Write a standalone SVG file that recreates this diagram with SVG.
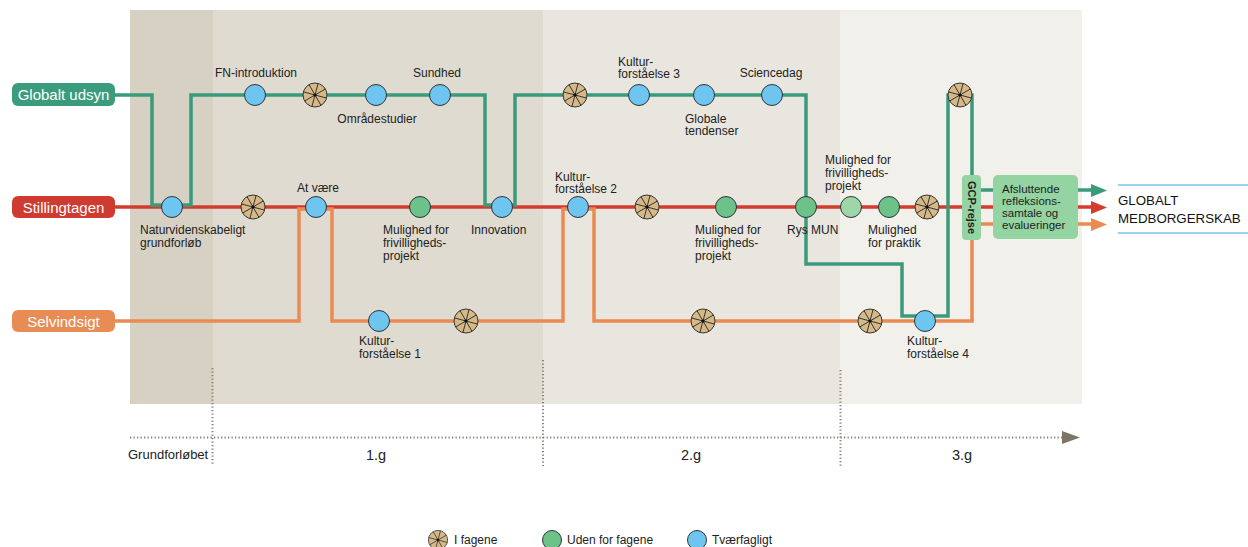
<svg xmlns="http://www.w3.org/2000/svg" width="1248" height="547" viewBox="0 0 1248 547">
<style>
.t{font-family:"Liberation Sans",Arial,sans-serif;font-size:12px;fill:#222}
.lab{font-family:"Liberation Sans",Arial,sans-serif;font-size:15px;fill:#fff;text-anchor:middle}
.box{font-family:"Liberation Sans",Arial,sans-serif;font-size:11.5px;fill:#1e1e1e}
.ln{fill:none;stroke-width:3.5;stroke-linejoin:miter}
.g{stroke:#3a9b7c}.r{stroke:#d33b2f}.o{stroke:#e98b52}
.bl{fill:#6ec6f0;stroke:#2d3438;stroke-width:1}
.gr{fill:#6dc289;stroke:#2d3438;stroke-width:1}
.lg{fill:#9fd6a9;stroke:#2d3438;stroke-width:1}
.dot{fill:none;stroke:#8a8478;stroke-width:2;stroke-dasharray:1.3 2.2}
</style>
<defs>
<g id="wheel">
<circle r="12" fill="#d7b887" stroke="#333" stroke-width="1"/>
<g transform="rotate(15)" stroke="#333" stroke-width="0.9">
<path d="M0,-12V12M-12,0H12M-8.5,-8.5L8.5,8.5M-8.5,8.5L8.5,-8.5"/>
</g>
<circle r="1.6" fill="#111"/>
</g>
</defs>

<g id="background">
<rect x="130" y="10" width="83" height="394" fill="#d6d1c3"/>
<rect x="213" y="10" width="330" height="394" fill="#dfdbd0"/>
<rect x="543" y="10" width="297" height="394" fill="#e8e6df"/>
<rect x="840" y="10" width="242" height="394" fill="#f1f0eb"/>
</g>

<g id="timeline">
<path class="dot" d="M130,437.5H1064"/>
<polygon points="1062,431 1080,437.5 1062,444" fill="#7d7565"/>
<path class="dot" d="M212.5,368V466M543,360V466M840.5,370V466"/>
<text class="t" x="128" y="459" style="font-size:13px">Grundforløbet</text>
<text class="t" x="376" y="460" text-anchor="middle" style="font-size:14.5px">1.g</text>
<text class="t" x="691" y="460" text-anchor="middle" style="font-size:14.5px">2.g</text>
<text class="t" x="962" y="460" text-anchor="middle" style="font-size:14.5px">3.g</text>
</g>

<g id="connectors">
<path class="ln r" d="M115,207H1094"/>
<path class="ln o" d="M115,321H299V209H332V321H563V209H594V321H972V240"/>
<path class="ln g" d="M115,95H152V205H191V95H485V205H515V95H806V264H902V316H948V95H972V176"/>
<path class="ln g" d="M980,190H994M1077,190H1094"/>
<path class="ln o" d="M980,224H994M1077,224H1094"/>
<polygon points="1091,184 1107,190.5 1091,197" fill="#3a9b7c"/>
<polygon points="1091,201 1107,207.5 1091,214" fill="#d33b2f"/>
<polygon points="1091,218 1107,224.5 1091,231" fill="#e98b52"/>
</g>

<g id="line-globalt">
<rect x="12" y="83" width="103" height="23" rx="6" fill="#3b9b7d"/>
<text class="lab" x="63.5" y="100">Globalt udsyn</text>
</g>
<g id="line-stilling">
<rect x="12" y="196" width="103" height="22" rx="6" fill="#cf3b30"/>
<text class="lab" x="63.5" y="212.5">Stillingtagen</text>
</g>
<g id="line-selv">
<rect x="12" y="310" width="103" height="22" rx="6" fill="#e88c55"/>
<text class="lab" x="63.5" y="326.5">Selvindsigt</text>
</g>

<g id="n-fn"><circle class="bl" cx="255" cy="95" r="10.5"/><text class="t" x="256" y="77" text-anchor="middle">FN-introduktion</text></g>
<g id="n-w1"><use href="#wheel" x="315" y="95"/></g>
<g id="n-omr"><circle class="bl" cx="376" cy="95" r="10.5"/><text class="t" x="377" y="123" text-anchor="middle">Områdestudier</text></g>
<g id="n-sund"><circle class="bl" cx="440" cy="95" r="10.5"/><text class="t" x="437" y="77" text-anchor="middle">Sundhed</text></g>
<g id="n-w2"><use href="#wheel" x="575" y="95"/></g>
<g id="n-kf3"><circle class="bl" cx="639" cy="95" r="10.5"/><text class="t" x="618" y="66">Kultur-</text><text class="t" x="618" y="78">forståelse 3</text></g>
<g id="n-glob"><circle class="bl" cx="704" cy="95" r="10.5"/><text class="t" x="685" y="123">Globale</text><text class="t" x="685" y="135">tendenser</text></g>
<g id="n-sci"><circle class="bl" cx="772" cy="95" r="10.5"/><text class="t" x="771" y="77" text-anchor="middle">Sciencedag</text></g>
<g id="n-w3"><use href="#wheel" x="960" y="95"/></g>

<g id="n-nat"><circle class="bl" cx="172" cy="207" r="10.5"/><text class="t" x="140" y="234">Naturvidenskabeligt</text><text class="t" x="140" y="247">grundforløb</text></g>
<g id="n-w4"><use href="#wheel" x="253" y="207"/></g>
<g id="n-at"><circle class="bl" cx="316" cy="207" r="10.5"/><text class="t" x="297" y="192">At være</text></g>
<g id="n-mf1"><circle class="gr" cx="420" cy="207" r="10.5"/><text class="t" x="383" y="234">Mulighed for</text><text class="t" x="383" y="247">frivilligheds-</text><text class="t" x="383" y="260">projekt</text></g>
<g id="n-inn"><circle class="bl" cx="502" cy="207" r="10.5"/><text class="t" x="471" y="234">Innovation</text></g>
<g id="n-kf2"><circle class="bl" cx="578" cy="207" r="10.5"/><text class="t" x="555" y="181">Kultur-</text><text class="t" x="555" y="193">forståelse 2</text></g>
<g id="n-w5"><use href="#wheel" x="647" y="207"/></g>
<g id="n-mf2"><circle class="gr" cx="726" cy="207" r="10.5"/><text class="t" x="695" y="234">Mulighed for</text><text class="t" x="695" y="247">frivilligheds-</text><text class="t" x="695" y="260">projekt</text></g>
<g id="n-rys"><circle class="gr" cx="806" cy="207" r="10.5"/><text class="t" x="787" y="234">Rys MUN</text></g>
<g id="n-mf3"><circle class="lg" cx="851" cy="207" r="10.5"/><text class="t" x="825" y="164">Mulighed for</text><text class="t" x="825" y="177">frivilligheds-</text><text class="t" x="825" y="190">projekt</text></g>
<g id="n-prak"><circle class="gr" cx="889" cy="207" r="10.5"/><text class="t" x="868" y="234">Mulighed</text><text class="t" x="868" y="247">for praktik</text></g>
<g id="n-w6"><use href="#wheel" x="927" y="207"/></g>

<g id="n-kf1"><circle class="bl" cx="379" cy="321" r="10.5"/><text class="t" x="359" y="345">Kultur-</text><text class="t" x="359" y="357.5">forståelse 1</text></g>
<g id="n-w7"><use href="#wheel" x="466" y="321"/></g>
<g id="n-w8"><use href="#wheel" x="703" y="321"/></g>
<g id="n-w9"><use href="#wheel" x="870" y="321"/></g>
<g id="n-kf4"><circle class="bl" cx="925" cy="321" r="10.5"/><text class="t" x="907" y="345">Kultur-</text><text class="t" x="907" y="357.5">forståelse 4</text></g>

<g id="n-gcp">
<rect x="962" y="175" width="19" height="65" rx="4" fill="#94d3a2"/>
<text class="box" x="971.5" y="207.5" text-anchor="middle" dominant-baseline="central" font-weight="bold" style="font-size:11px" transform="rotate(90 971.5 207.5)">GCP-rejse</text>
</g>
<g id="n-afs">
<rect x="993" y="175" width="85" height="64" rx="5" fill="#94d3a2"/>
<text class="box" x="1002" y="193">Afsluttende</text>
<text class="box" x="1002" y="205">refleksions-</text>
<text class="box" x="1002" y="217">samtale og</text>
<text class="box" x="1002" y="229">evalueringer</text>
</g>
<g id="n-goal">
<path d="M1118,185H1248M1118,233H1248" stroke="#74c8ea" stroke-width="1.5" fill="none"/>
<text class="t" x="1118" y="205" style="font-size:13.3px;fill:#111">GLOBALT</text>
<text class="t" x="1118" y="223" style="font-size:13.3px;fill:#111">MEDBORGERSKAB</text>
</g>

<g id="legend">
<use href="#wheel" transform="translate(438 540) scale(0.8)"/>
<text class="t" x="454" y="544" style="font-size:12px">I fagene</text>
<circle class="gr" cx="552" cy="540" r="9.5"/>
<text class="t" x="567" y="544" style="font-size:12px">Uden for fagene</text>
<circle class="bl" cx="697" cy="540" r="9.5"/>
<text class="t" x="712" y="544" style="font-size:12px">Tværfagligt</text>
</g>
</svg>
